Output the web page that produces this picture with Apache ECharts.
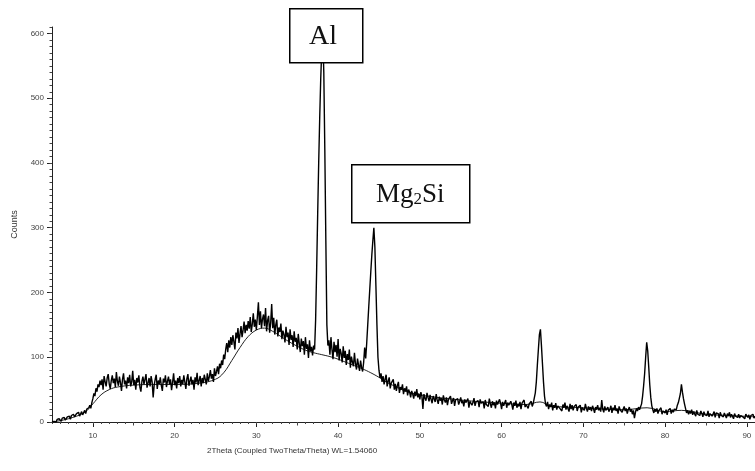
<!DOCTYPE html>
<html>
<head>
<meta charset="utf-8">
<script src="https://cdn.jsdelivr.net/npm/echarts@6/dist/echarts.min.js"></script>
<style>
  html, body { margin: 0; padding: 0; background: #fff; }
  #chart { width: 755px; height: 471px; }
</style>
</head>
<body>
<div id="chart"></div>
<script>
// measured pattern, one row = 2 deg, sampled every 0.125 deg from 5 deg
var scanStart = 5;
var scanStep = 0.125;
var counts = [
  0, 2, 1, 3, 0, 4, 2, 5, 3, 1, 6, 4, 7, 3, 5, 8,
  6, 9, 4, 10, 7, 12, 8, 6, 13, 10, 15, 9, 12, 16, 11, 14,
  18, 13, 20, 17, 22, 26, 21, 30, 36, 44, 40, 52, 47, 58, 54, 64,
  57, 66, 50, 71, 62, 55, 68, 74, 59, 51, 64, 72, 60, 67, 54, 77,
  63, 56, 70, 61, 48, 66, 75, 58, 64, 52, 69, 60, 73, 55, 62, 79,
  57, 65, 50, 68, 61, 72, 54, 47, 63, 70, 58, 66, 74, 53, 60, 68,
  55, 71, 62, 38, 57, 66, 73, 51, 64, 59, 69, 56, 48, 67, 61, 72,
  54, 63, 70, 58, 66, 49, 61, 75, 57, 64, 52, 68, 60, 71, 55, 65,
  59, 72, 62, 51, 67, 74, 56, 63, 70, 58, 65, 50, 69, 61, 76, 57,
  64, 71, 55, 68, 60, 73, 66, 58, 75, 63, 70, 80, 67, 74, 62, 83,
  71, 78, 86, 74, 90, 83, 95, 88, 104, 97, 112, 122, 108, 126, 115, 131,
  119, 134, 124, 112, 138, 129, 145, 122, 136, 148, 131, 142, 155, 137, 150, 141,
  156, 144, 162, 139, 151, 168, 147, 158, 142, 163, 185, 150, 171, 145, 159, 166,
  148, 176, 140, 157, 164, 138, 153, 182, 145, 161, 135, 150, 158, 132, 146, 139,
  152, 128, 141, 135, 123, 147, 131, 138, 119, 143, 127, 134, 116, 140, 124, 130,
  112, 136, 121, 108, 129, 117, 125, 104, 131, 113, 120, 99, 126, 109, 116, 103,
  118, 112, 158, 235, 320, 400, 470, 530, 575, 600, 540, 420, 280, 150, 118, 126,
  104, 131, 112, 97, 124, 108, 119, 101, 128, 95, 113, 106, 92, 117, 99, 110,
  88, 105, 96, 112, 84, 101, 93, 86, 107, 90, 81, 98, 88, 79, 95, 84,
  78, 92, 115, 98, 122, 150, 178, 205, 232, 258, 280, 300, 270, 210, 150, 100,
  80, 68, 75, 62, 71, 58, 66, 73, 55, 63, 69, 52, 60, 57, 66, 50,
  59, 48, 56, 62, 45, 54, 50, 58, 43, 52, 47, 55, 41, 50, 46, 38,
  48, 43, 36, 47, 40, 51, 38, 44, 35, 46, 40, 20, 43, 37, 33, 45,
  38, 32, 42, 35, 29, 40, 36, 31, 43, 34, 28, 39, 33, 37, 27, 41,
  34, 30, 38, 26, 35, 32, 40, 28, 33, 37, 25, 34, 31, 36, 27, 32,
  38, 29, 33, 24, 35, 30, 27, 36, 22, 32, 34, 26, 30, 37, 25, 31,
  28, 33, 23, 35, 29, 26, 31, 21, 34, 27, 30, 24, 36, 28, 22, 32,
  26, 30, 21, 33, 27, 24, 35, 29, 20, 31, 25, 28, 34, 22, 30, 26,
  23, 32, 27, 19, 30, 25, 33, 22, 28, 24, 31, 20, 29, 26, 34, 23,
  27, 30, 21, 28, 25, 32, 24, 29, 31, 45, 62, 88, 112, 135, 143, 118,
  90, 62, 40, 28, 24, 31, 20, 27, 23, 30, 18, 26, 22, 29, 19, 25,
  28, 21, 24, 17, 27, 22, 30, 19, 25, 23, 16, 28, 20, 26, 18, 24,
  21, 27, 17, 23, 20, 26, 15, 22, 25, 18, 28, 21, 16, 24, 19, 23,
  17, 25, 20, 14, 23, 19, 26, 18, 22, 16, 34, 20, 15, 24, 18, 21,
  23, 16, 20, 25, 14, 22, 18, 26, 17, 21, 13, 24, 19, 22, 15, 20,
  24, 17, 21, 13, 19, 23, 16, 20, 12, 18, 6, 15, 21, 17, 23, 19,
  22, 28, 40, 56, 75, 100, 123, 110, 85, 58, 38, 25, 19, 14, 20, 16,
  21, 13, 18, 15, 22, 12, 17, 20, 14, 19, 11, 18, 16, 21, 13, 19,
  15, 20, 22, 19, 26, 30, 37, 44, 58, 46, 36, 28, 21, 14, 18, 12,
  17, 13, 19, 11, 16, 14, 9, 18, 12, 15, 10, 17, 13, 8, 16, 11,
  14, 10, 17, 8, 13, 15, 9, 12, 16, 7, 14, 11, 13, 6, 15, 10,
  12, 8, 14, 11, 6, 13, 9, 15, 7, 12, 10, 5, 13, 9, 11, 7,
  12, 6, 10, 13, 8, 11, 5, 12, 9, 7, 11, 4, 10, 8, 12, 6,
  9
];

// background fit
var bgTheta = [5, 7, 9, 10, 11, 12, 13, 15, 18, 20, 23, 25, 26, 27, 28, 29, 30, 31, 32, 33,
  34, 35, 36, 37, 38, 39, 40, 41, 42, 43, 44, 45, 46, 47, 48, 50, 55, 60, 63, 64.7,
  66, 70, 75, 77.8, 80, 82, 85, 88, 91];
var bgCounts = [0, 5, 15, 28, 42, 50, 54, 57, 58, 58, 60, 66, 76, 95, 115, 132, 142, 145, 140, 132,
  124, 117, 111, 107, 104, 101, 97, 92, 87, 82, 76, 69, 61, 55, 49, 42, 34, 29, 27, 31,
  25, 22, 19, 22, 16, 18, 12, 10, 8];

var xTickLabels = [10, 20, 30, 40, 50, 60, 70, 80, 90];
var xMidTicks = [15, 25, 35, 45, 55, 65, 75, 85];
var yTickLabels = [0, 100, 200, 300, 400, 500, 600];
var xTitle = '2Theta (Coupled TwoTheta/Theta) WL=1.54060';

var xMinorTicks = [];
for (var t = 5; t <= 91; t++) xMinorTicks.push(t);
var yMinorTicks = [];
for (var v = 0; v <= 610; v += 10) yMinorTicks.push(v);

var scanData = counts.map(function (c, i) {
  return [scanStart + i * scanStep, c];
});
var bgData = bgTheta.map(function (x, i) {
  return [x, bgCounts[i]];
});

var labelFont = 'Liberation Sans, Arial, sans-serif';
var serif = 'Liberation Serif, Times New Roman, serif';

var chart = echarts.init(document.getElementById('chart'));
var option = {
  animation: false,
  backgroundColor: '#fff',
  grid: { left: 52, right: 0, top: 27, bottom: 49 },
  xAxis: [
    {
      type: 'value', min: 5, max: 91, position: 'bottom',
      axisLine: { lineStyle: { color: '#222', width: 1 } },
      axisTick: { customValues: xTickLabels, length: 5, lineStyle: { color: '#222' } },
      axisLabel: { customValues: xTickLabels, color: '#444', fontSize: 8, fontFamily: labelFont, margin: 10 },
      splitLine: { show: false }
    },
    {
      type: 'value', min: 5, max: 91, position: 'bottom',
      axisLine: { show: false },
      axisTick: { customValues: xMinorTicks, length: 2, lineStyle: { color: '#444' } },
      axisLabel: { show: false },
      splitLine: { show: false }
    },
    {
      type: 'value', min: 5, max: 91, position: 'bottom',
      axisLine: { show: false },
      axisTick: { customValues: xMidTicks, length: 3.5, lineStyle: { color: '#444' } },
      axisLabel: { show: false },
      splitLine: { show: false }
    }
  ],
  yAxis: [
    {
      type: 'value', min: 0, max: 610, position: 'left',
      axisLine: { show: true, lineStyle: { color: '#222', width: 1 } },
      axisTick: { show: true, customValues: yTickLabels, length: 5, lineStyle: { color: '#222' } },
      axisLabel: { customValues: yTickLabels, color: '#444', fontSize: 8, fontFamily: labelFont, margin: 8 },
      splitLine: { show: false },
      name: 'Counts', nameLocation: 'middle', nameGap: 33,
      nameTextStyle: { color: '#333', fontSize: 9, fontFamily: labelFont }
    },
    {
      type: 'value', min: 0, max: 610, position: 'left',
      axisLine: { show: false },
      axisTick: { show: true, customValues: yMinorTicks, length: 2.5, lineStyle: { color: '#444' } },
      axisLabel: { show: false },
      splitLine: { show: false }
    }
  ],
  series: [
    {
      name: 'scan', type: 'line', data: scanData,
      showSymbol: false, symbol: 'none',
      lineStyle: { color: '#000', width: 1.4 },
      z: 3
    },
    {
      name: 'background', type: 'line', data: bgData,
      showSymbol: false, symbol: 'none', smooth: 0.4,
      lineStyle: { color: '#222', width: 1 },
      z: 2
    }
  ],
  graphic: [
    {
      type: 'text', left: 207, top: 447, z: 100,
      style: { text: xTitle, fill: '#333', font: '8px ' + labelFont }
    },
    {
      type: 'rect', left: 289, top: 8, z: 100,
      shape: { width: 73, height: 54 },
      style: { fill: '#fff', stroke: '#000', lineWidth: 1.5 }
    },
    {
      type: 'text', left: 309, top: 23, z: 101,
      style: { text: 'Al', fill: '#111', font: '28px ' + serif }
    },
    {
      type: 'rect', left: 351, top: 164, z: 100,
      shape: { width: 118, height: 58 },
      style: { fill: '#fff', stroke: '#000', lineWidth: 1.5 }
    },
    {
      type: 'text', left: 376, top: 181, z: 101,
      style: {
        text: '{a|Mg}{b|2}{a|Si}',
        rich: {
          a: { fontSize: 27, fontFamily: serif, fill: '#111', lineHeight: 30, verticalAlign: 'bottom' },
          b: { fontSize: 17, fontFamily: serif, fill: '#111', lineHeight: 24, verticalAlign: 'bottom' }
        }
      }
    }
  ]
};
chart.setOption(option);
</script>
</body>
</html>
